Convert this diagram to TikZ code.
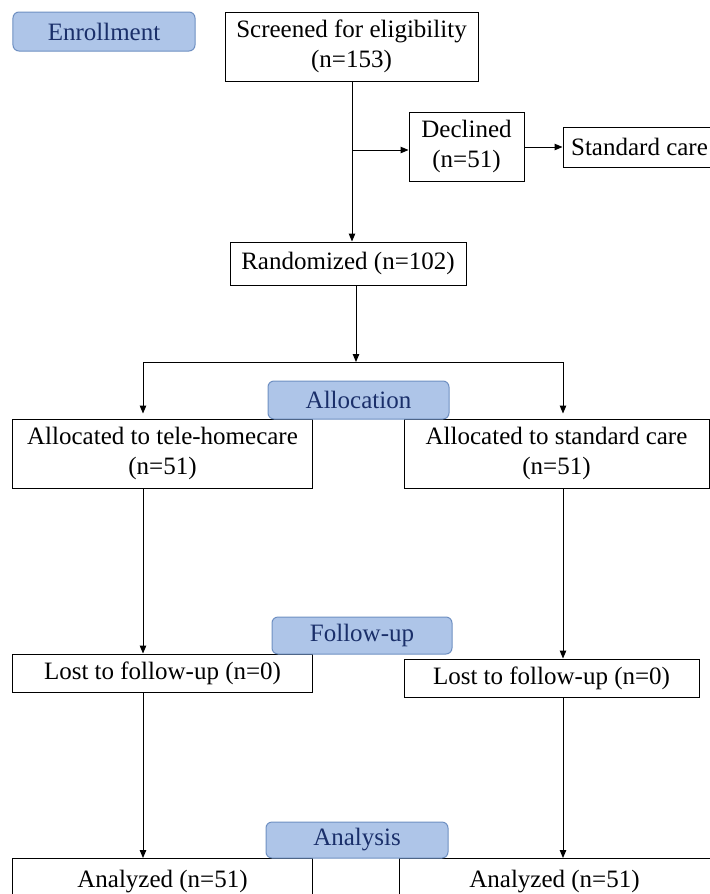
\documentclass[tikz,border=0pt]{standalone}
\usepackage{fontspec}
\setmainfont{Liberation Serif}
\usetikzlibrary{arrows.meta}
\definecolor{stagefill}{HTML}{AEC5E8}
\definecolor{stageline}{HTML}{6F90C2}
\definecolor{stagetext}{HTML}{1A2F6A}
\begin{document}
\begin{tikzpicture}[x=0.4pt, y=-0.4pt,
        box/.style={draw, rectangle, inner sep=0pt, align=center, minimum height=27.6pt},
        stage/.style={draw=stageline, fill=stagefill, rounded corners=2.4pt, text=stagetext, inner sep=0pt},
        >={Triangle[length=3.2pt,width=2.6pt]}]
        \useasboundingbox (0,0) rectangle (710,894);

        \node[box, minimum width=101.2pt] (screen) at (351.5,46.5) {Screened for eligibility\\(n=153)};
        \node[box, minimum width=46pt] (declined) at (466.5,146.5) {Declined\\(n=51)};
        \node[box, minimum width=61.2pt, minimum height=16pt] (stdcare) at (639.5,147) {Standard care};
        \node[box, minimum width=94.4pt, minimum height=17.2pt] (random) at (348,263.5) {Randomized (n=102)};
        \node[box, minimum width=119.6pt] (tele) at (162.5,453.5) {Allocated to tele-homecare\\(n=51)};
        \node[box, minimum width=122pt] (usual) at (556.5,453.5) {Allocated to standard care\\(n=51)};
        \node[box, minimum width=119.6pt, minimum height=15.2pt] (lostL) at (162.5,673) {Lost to follow-up (n=0)};
        \node[box, minimum width=118pt, minimum height=15.2pt] (lostR) at (551.5,678) {Lost to follow-up (n=0)};
        \node[box, minimum width=119.6pt, minimum height=18.4pt, anchor=north] (anaL) at (162.5,858) {Analyzed (n=51)};
        \node[box, minimum width=124.4pt, minimum height=18.4pt, anchor=north] (anaR) at (554.5,858) {Analyzed (n=51)};

        % stage labels
        \node[stage, minimum width=72.8pt, minimum height=15.6pt] (enroll) at (104,31.5) {Enrollment};
        \node[stage, minimum width=72.4pt, minimum height=15.2pt] (alloc) at (358.5,400) {Allocation};
        \node[stage, minimum width=72pt, minimum height=14.8pt] (follow) at (362,635.5) {Follow-up};
        \node[stage, minimum width=72.8pt, minimum height=14.4pt] (analysis) at (357,840) {Analysis};

        \coordinate (split) at (352,150);
        \coordinate (fork) at (356,362);
        \coordinate (forkL) at (143,362);
        \coordinate (forkR) at (563,362);

        \draw[->] (screen.south -| split) -- (random.north -| split);
        \draw[->] (split) -- (split -| declined.west);
        \draw[->] (declined.east |- stdcare) -- (stdcare.west);
        \draw[->] (random.south -| fork) -- (fork);
        \draw (forkL) -- (forkR);
        \draw[->] (forkL) -- ([yshift=2pt]forkL |- tele.north);
        \draw[->] (forkR) -- ([yshift=2pt]forkR |- usual.north);
        \draw[->] (forkL |- tele.south) -- (forkL |- lostL.north);
        \draw[->] (forkR |- usual.south) -- (forkR |- lostR.north);
        \draw[->] (forkL |- lostL.south) -- (forkL |- anaL.north);
        \draw[->] (forkR |- lostR.south) -- (forkR |- anaR.north);
    \end{tikzpicture}
\end{document}
